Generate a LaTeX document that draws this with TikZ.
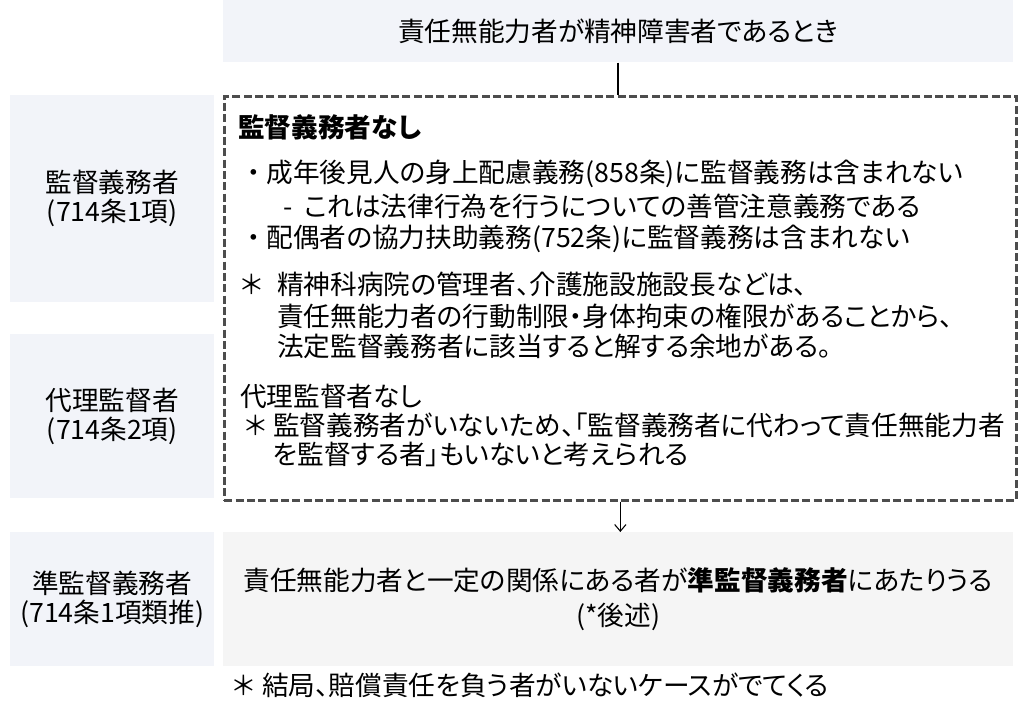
\documentclass[tikz,border=0pt]{standalone}
\usepackage{fontspec}
\setmainfont{Noto Sans CJK JP}[RawFeature=+palt]
\usepackage{tikz}
\usetikzlibrary{arrows.meta}
\definecolor{fondoazul}{HTML}{F2F4F9}
\definecolor{fondogris}{HTML}{F5F5F5}
\definecolor{bordegris}{HTML}{4D4D4D}
\tikzset{
	every node/.style={
		font=\fontsize{20}{21.75}\selectfont,
		inner sep=0pt
	},
	header/.style={
		shape=rectangle,
		anchor=north west,
		minimum width=592.5pt,
		minimum height=46.5pt,
		fill=fondoazul,
		text centered
	},
	rowlabel/.style={
		shape=rectangle,
		anchor=north west,
		minimum width=153pt,
		fill=fondoazul,
		align=center
	},
	notebox/.style={
		shape=rectangle,
		anchor=north west,
		minimum width=594pt,
		minimum height=303pt,
		draw=bordegris,
		line width=2pt,
		dash pattern=on 6pt off 2.5pt
	},
	resultbox/.style={
		shape=rectangle,
		anchor=north west,
		minimum width=592.5pt,
		minimum height=100.5pt,
		fill=fondogris,
		align=center,
		font=\fontsize{20}{26.25}\selectfont
	},
	textline/.style={
		anchor=base west
	},
	myline/.style={line width=1.2pt},
	myarrow/.style={-{Straight Barb[length=5pt,width=8.5pt]}, line width=0.8pt},
}

\begin{document}
\begin{tikzpicture}[x=0.75pt,y=-0.75pt]
	\useasboundingbox (0,0) rectangle (1021,709);
	
	\node[header] (cuando) at (223,0) {責任無能力者が精神障害者であるとき};
	
	\node[rowlabel, minimum height=155.25pt] (kantoku) at (10,95) {監督義務者\\(714条1項)};
	\node[rowlabel, minimum height=123pt] (dairi) at (10,334) {代理監督者\\(714条2項)};
	\node[rowlabel, minimum height=100.5pt] (jun) at (10,532) {準監督義務者\\(714条1項類推)};
	
	\node[notebox] (nashi) at (223,95) {};
	\node[textline] (nashi1) at (238,138) {\bfseries 監督義務者なし};
	\node[textline] (nashi2) at (247,183) {・ 成年後見人の身上配慮義務(858条)に監督義務は含まれない};
	\node[textline] (nashi3) at (283,217) {-\hspace{0.45em}これは法律行為を行うについての善管注意義務である};
	\node[textline] (nashi4) at (247,248) {・ 配偶者の協力扶助義務(752条)に監督義務は含まれない};
	\node[textline] (nashi5) at (241,295) {\makebox[27pt][l]{＊}精神科病院の管理者、介護施設施設長などは、};
	\node[textline] (nashi6) at (277,326) {責任無能力者の行動制限・身体拘束の権限があることから、};
	\node[textline] (nashi7) at (277,356) {法定監督義務者に該当すると解する余地がある。};
	\node[textline] (nashi8) at (240,406) {代理監督者なし};
	\node[textline] (nashi9) at (245,435) {\makebox[21pt][l]{＊}監督義務者がいないため、「監督義務者に代わって責任無能力者};
	\node[textline] (nashi10) at (273,464) {を監督する者」もいないと考えられる};
	
	\node[resultbox] (atari) at (223,532) {責任無能力者と一定の関係にある者が\textbf{準監督義務者}にあたりうる\\(*後述)};
	
	\node[textline] (kekkyoku) at (233,695) {\makebox[21.75pt][l]{＊}結局、賠償責任を負う者がいないケースがでてくる};
	
	\draw[myline] (cuando.south) -- (cuando.south |- nashi.north);
	\draw[myarrow] (nashi.south) -- (nashi.south |- atari.north);
	
\end{tikzpicture}
\end{document}
